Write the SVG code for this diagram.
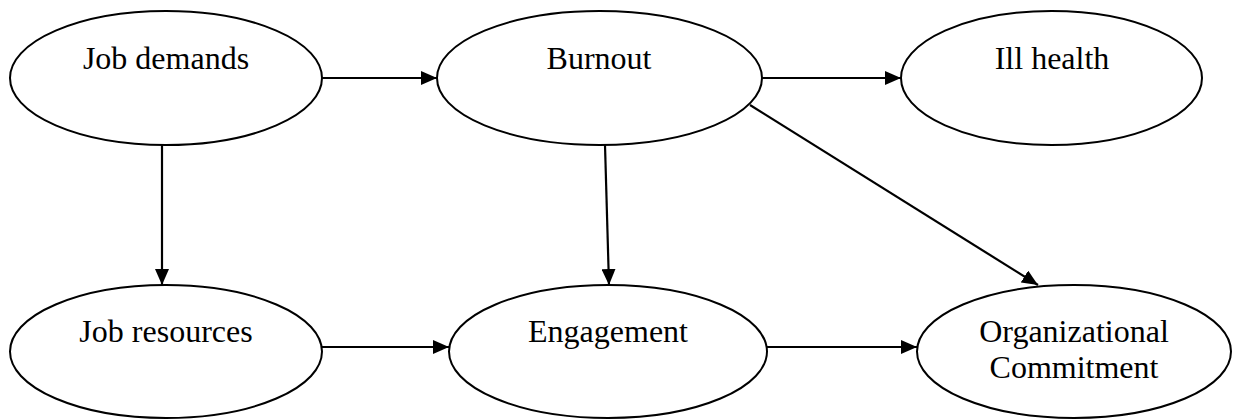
<svg xmlns="http://www.w3.org/2000/svg" width="1238" height="419" viewBox="0 0 1238 419">
<style>
.n{fill:#fff;stroke:#000;stroke-width:2}
.t{font-family:"Liberation Serif","Times New Roman",serif;font-size:32px;fill:#000;text-anchor:middle}
.c{stroke:#000;stroke-width:2.2;fill:none;marker-end:url(#ah)}
</style>
<defs>
<marker id="ah" viewBox="0 0 16 14" refX="16" refY="7" markerWidth="16" markerHeight="14" markerUnits="userSpaceOnUse" orient="auto">
<path d="M0,0 L16,7 L0,14 Z" fill="#000"/>
</marker>
</defs>
<rect width="1238" height="419" fill="#fff"/>
<g id="connectors">
<line class="c" x1="322" y1="78" x2="437" y2="78"/>
<line class="c" x1="762" y1="78" x2="901" y2="78"/>
<line class="c" x1="162" y1="145" x2="162" y2="285"/>
<line class="c" x1="605" y1="145" x2="609" y2="285"/>
<line class="c" x1="750" y1="105" x2="1038" y2="285"/>
<line class="c" x1="322" y1="347" x2="449" y2="347"/>
<line class="c" x1="767" y1="347" x2="917" y2="347"/>
</g>
<g id="job-demands"><ellipse class="n" cx="166" cy="78" rx="156" ry="67"/><text class="t" x="166" y="69">Job demands</text></g>
<g id="burnout"><ellipse class="n" cx="599.5" cy="78" rx="162.5" ry="67"/><text class="t" x="599" y="69">Burnout</text></g>
<g id="ill-health"><ellipse class="n" cx="1051.5" cy="78" rx="150.5" ry="67"/><text class="t" x="1052" y="69">Ill health</text></g>
<g id="job-resources"><ellipse class="n" cx="166" cy="351.5" rx="156" ry="66.5"/><text class="t" x="166" y="342">Job resources</text></g>
<g id="engagement"><ellipse class="n" cx="608" cy="351.5" rx="159" ry="66.5"/><text class="t" x="608" y="342">Engagement</text></g>
<g id="org-commitment"><ellipse class="n" cx="1074" cy="351.5" rx="157" ry="66.5"/><text class="t" x="1074" y="342">Organizational</text><text class="t" x="1074" y="378">Commitment</text></g>
</svg>
